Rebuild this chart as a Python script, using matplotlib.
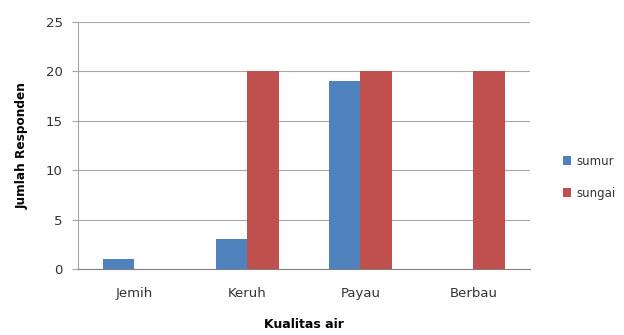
import numpy as np
import matplotlib
matplotlib.use("Agg")
import matplotlib.pyplot as plt

# Data
kategori = ["Jemih", "Keruh", "Payau", "Berbau"]
sumur = [1, 3, 19, 0]
sungai = [0, 20, 20, 20]

fig = plt.figure(figsize=(6.24, 3.35), dpi=100)
ax = fig.add_axes([0.125, 0.197, 0.724, 0.737])

x = np.arange(len(kategori))
w = 0.28
ax.bar(x - w / 2, sumur, w, color="#4F81BD", label="sumur", zorder=3)
ax.bar(x + w / 2, sungai, w, color="#C0504D", label="sungai", zorder=3)

ax.set_xlim(-0.5, 3.5)
ax.set_ylim(0, 25)
ax.set_yticks([0, 5, 10, 15, 20, 25])
ax.set_xticks(x)
ax.set_xticklabels(kategori)
ax.yaxis.grid(True, color="#a6a6a6", linewidth=0.8, zorder=0)

for s in ["top", "right"]:
    ax.spines[s].set_visible(False)
ax.spines["left"].set_color("#a6a6a6")
ax.spines["bottom"].set_color("#808080")
ax.tick_params(axis="y", length=4, color="#a6a6a6", labelsize=9.5, labelcolor="#333333", pad=7)
ax.tick_params(axis="x", length=0, labelsize=9.5, labelcolor="#333333", pad=13)

ax.set_xlabel("Kualitas air", fontsize=9, fontweight="bold", labelpad=13)
ax.set_ylabel("Jumlah Responden", fontsize=8.7, fontweight="bold", labelpad=12)

ax.legend(loc="center left", bbox_to_anchor=(1.05, 0.372), frameon=False,
          fontsize=8.5, handlelength=0.7, handleheight=0.7, labelspacing=1.6,
          handletextpad=0.4, labelcolor="#333333")

fig.savefig("out.png", dpi=100)
